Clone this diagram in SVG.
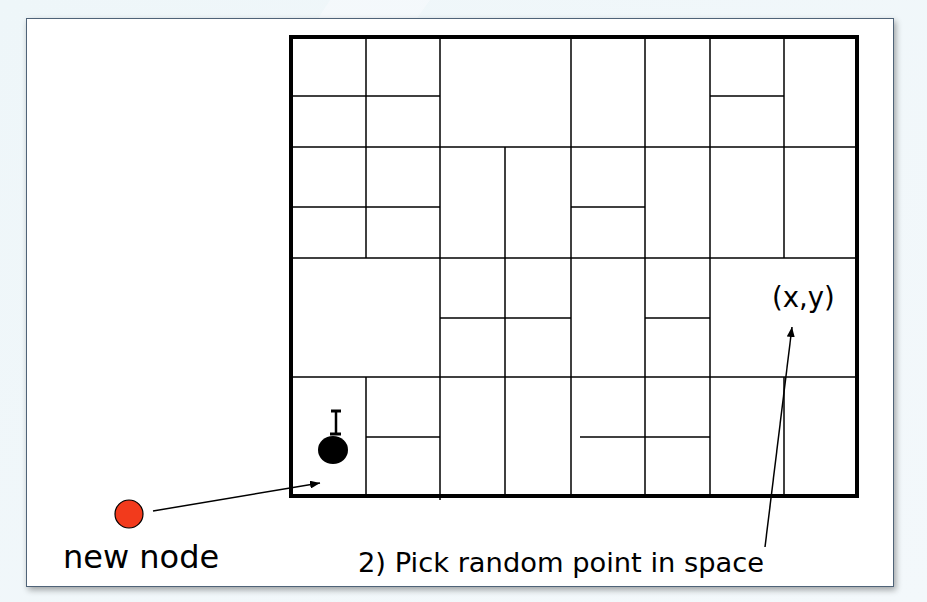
<svg xmlns="http://www.w3.org/2000/svg" width="927" height="602" viewBox="0 0 927 602">
  <defs>
    <linearGradient id="bg" x1="0" y1="0" x2="1" y2="1">
      <stop offset="0" stop-color="#eef6f9"/>
      <stop offset="1" stop-color="#f3f8fb"/>
    </linearGradient>
    <filter id="shadow" x="-5%" y="-5%" width="110%" height="110%">
      <feGaussianBlur in="SourceAlpha" stdDeviation="3"/>
      <feOffset dx="2" dy="3" result="b"/>
      <feComponentTransfer><feFuncA type="linear" slope="0.35"/></feComponentTransfer>
      <feMerge><feMergeNode/><feMergeNode in="SourceGraphic"/></feMerge>
    </filter>
    <marker id="arrow" viewBox="0 0 10 8" refX="10" refY="4" markerWidth="10" markerHeight="8" markerUnits="userSpaceOnUse" orient="auto">
      <path d="M0,0 L10,4 L0,8 Z" fill="#000"/>
    </marker>
  </defs>
  <style>
    .thin { stroke: #000; stroke-width: 1.5; fill: none; }
    .frame { stroke: #000; stroke-width: 4; fill: none; }
    .conn { stroke: #000; stroke-width: 1.5; fill: none; marker-end: url(#arrow); }
    .label { font-family: "DejaVu Sans", Verdana, sans-serif; fill: #000; }
  </style>
  <rect x="0" y="0" width="927" height="602" fill="url(#bg)"/>
  <path d="M330,0 L430,0 L330,140 L240,140 Z" fill="#f6fafc" opacity="0.7"/>
  <rect id="panel" x="26.5" y="18.5" width="867" height="568" fill="#fff" stroke="#4f6478" stroke-width="1" filter="url(#shadow)"/>

  <g id="grid">
    <!-- row boundaries -->
    <line class="thin" x1="291" y1="147" x2="858" y2="147"/>
    <line class="thin" x1="291" y1="258" x2="858" y2="258"/>
    <line class="thin" x1="291" y1="377" x2="858" y2="377"/>
    <!-- verticals -->
    <line class="thin" x1="366" y1="37" x2="366" y2="258"/>
    <line class="thin" x1="366" y1="377" x2="366" y2="496"/>
    <line class="thin" x1="440" y1="37" x2="440" y2="500"/>
    <line class="thin" x1="505" y1="147" x2="505" y2="496"/>
    <line class="thin" x1="571" y1="37" x2="571" y2="496"/>
    <line class="thin" x1="645" y1="37" x2="645" y2="496"/>
    <line class="thin" x1="710" y1="37" x2="710" y2="496"/>
    <line class="thin" x1="784" y1="37" x2="784" y2="258"/>
    <line class="thin" x1="784" y1="377" x2="784" y2="496"/>
    <!-- splits -->
    <line class="thin" x1="291" y1="96" x2="440" y2="96"/>
    <line class="thin" x1="710" y1="96" x2="784" y2="96"/>
    <line class="thin" x1="291" y1="207" x2="440" y2="207"/>
    <line class="thin" x1="571" y1="207" x2="645" y2="207"/>
    <line class="thin" x1="440" y1="318" x2="571" y2="318"/>
    <line class="thin" x1="645" y1="318" x2="710" y2="318"/>
    <line class="thin" x1="366" y1="437" x2="440" y2="437"/>
    <line class="thin" x1="580" y1="437" x2="710" y2="437"/>
    <rect class="frame" x="291" y="37" width="566" height="459"/>
  </g>

  <g id="existing-node">
    <ellipse cx="333" cy="450" rx="15" ry="14" fill="#000"/>
    <line x1="336" y1="411" x2="336" y2="434" stroke="#000" stroke-width="2.5"/>
    <line x1="331" y1="411" x2="341" y2="411" stroke="#000" stroke-width="3"/>
    <line x1="330" y1="434" x2="341" y2="434" stroke="#000" stroke-width="3"/>
  </g>

  <g id="new-node">
    <circle cx="129" cy="514" r="14" fill="#f23a1c" stroke="#000" stroke-width="1.2"/>
    <text class="label" x="63" y="568" font-size="32">new node</text>
  </g>

  <g id="point-label">
    <text class="label" x="772" y="307" font-size="27.5">(x,y)</text>
  </g>

  <g id="caption">
    <text class="label" x="358" y="572" font-size="27.3">2) Pick random point in space</text>
  </g>

  <g id="connectors">
    <line class="conn" x1="153" y1="511" x2="320" y2="483"/>
    <line class="conn" x1="765" y1="547" x2="792" y2="327"/>
  </g>
</svg>
